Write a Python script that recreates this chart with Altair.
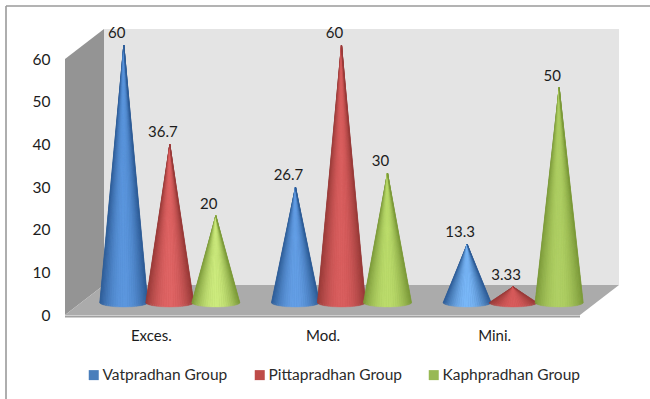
import math
import altair as alt
import pandas as pd

categories = ["Exces.", "Mod.", "Mini."]
groups = ["Vatpradhan Group", "Pittapradhan Group", "Kaphpradhan Group"]
values = {
    "Vatpradhan Group": [60, 26.7, 13.3],
    "Pittapradhan Group": [36.7, 60, 3.33],
    "Kaphpradhan Group": [20, 30, 50],
}
legend_colors = ["#4a7ebb", "#be4b48", "#98b954"]
edge_colors = ["#2e5c96", "#983b39", "#7c9a3a"]
# Highlight colour of each cone, one row per group and one column per category.
center_colors = [
    ["#5c97de", "#649fe6", "#7ab8f8"],
    ["#e06565", "#da5f5f", "#d85c5c"],
    ["#cdeb7e", "#bcdc6c", "#b0d064"],
]

FONT = "Lato"
TEXT = "#1c1c1c"

# Pixel lengths of one scale unit, for the 3D box offsets and cone proportions.
PX_PER_CAT = 515 / 3
PX_PER_VAL = 256 / 60
DEPTH_X = 39 / PX_PER_CAT
DEPTH_Y = 30 / PX_PER_VAL
BASE_RISE = 12.5 / PX_PER_VAL
APEX_RISE = 14 / PX_PER_VAL
CONE_STEP = 46 / PX_PER_CAT
CONE_RX = 24 / PX_PER_CAT
CONE_RY = 4.5 / PX_PER_VAL
STRIPS = 31


def mix(a, b, w):
    ca = [int(a[i:i + 2], 16) for i in (1, 3, 5)]
    cb = [int(b[i:i + 2], 16) for i in (1, 3, 5)]
    return "#%02x%02x%02x" % tuple(round(p + (q - p) * w) for p, q in zip(ca, cb))


def triangle_rows(p1, p2, p3):
    """Turn a triangle into x-ordered rows with a lower and an upper edge."""
    a, b, c = sorted([p1, p2, p3])
    span = c[0] - a[0]
    mid = a[1] + (c[1] - a[1]) * ((b[0] - a[0]) / span if span else 0)
    return [(a[0], a[1], a[1]), (b[0], b[1], mid), (c[0], c[1], c[1])]


outline_rows, strip_rows, label_rows = [], [], []
for c, category in enumerate(categories):
    for g, group in enumerate(groups):
        value = values[group][c]
        xc = c + 0.5 + DEPTH_X / 2 + (g - 1) * CONE_STEP - 0.003
        base = BASE_RISE
        apex = (xc, APEX_RISE + value)
        cone = f"{c}-{g}"
        label_rows.append({"x": xc, "y": apex[1], "label": f"{value:g}"})
        outline_rows += [
            {"x": xc - CONE_RX, "y": base, "y2": base, "group": group, "cone": cone},
            {"x": xc, "y": apex[1], "y2": base - CONE_RY, "group": group, "cone": cone},
            {"x": xc + CONE_RX, "y": base, "y2": base, "group": group, "cone": cone},
        ]
        # Fan of narrow wedges from the apex to the front arc of the base ellipse.
        for s in range(STRIPS):
            t0 = math.pi * s / STRIPS
            t1 = math.pi * (s + 1) / STRIPS
            tm = (t0 + t1) / 2
            p0 = (xc - CONE_RX * math.cos(t0), base - CONE_RY * math.sin(t0))
            p1 = (xc - CONE_RX * math.cos(t1), base - CONE_RY * math.sin(t1))
            shade = mix(edge_colors[g], center_colors[g][c], math.sin(tm) ** 2.2)
            for x, y, y2 in triangle_rows(apex, p0, p1):
                strip_rows.append({"x": x, "y": y, "y2": y2, "shade": shade, "strip": f"{cone}-{s:02d}"})

x_scale = alt.Scale(domain=[0, 3], nice=False, zero=False)
y_scale = alt.Scale(domain=[0, 60], nice=False, zero=False)

label_expr = " : ".join(f"datum.value < {i + 1} ? '{name}'" for i, name in enumerate(categories[:-1]))
label_expr += f" : '{categories[-1]}'"
x_enc = alt.X(
    "x:Q", scale=x_scale, title=None,
    axis=alt.Axis(values=[0.5, 1.5, 2.5], labelExpr=label_expr, domain=False, ticks=False, grid=False,
                  labelFont=FONT, labelFontSize=15, labelColor=TEXT, labelPadding=20, labelBaseline="middle"),
)
y_enc = alt.Y(
    "y:Q", scale=y_scale, title=None,
    axis=alt.Axis(values=[0, 10, 20, 30, 40, 50, 60], domain=False, ticks=False, grid=False,
                  labelFont=FONT, labelFontSize=15.5, labelColor=TEXT, labelPadding=15),
)

back_wall = pd.DataFrame({"x": [DEPTH_X, 3 + DEPTH_X], "y": [DEPTH_Y, DEPTH_Y], "y2": [60 + DEPTH_Y, 60 + DEPTH_Y]})
side_wall = pd.DataFrame({"x": [0, DEPTH_X], "y": [0, DEPTH_Y], "y2": [60, 60 + DEPTH_Y]})
floor = pd.DataFrame({"x": [0, DEPTH_X, 3, 3 + DEPTH_X], "y": [0, 0, 0, DEPTH_Y], "y2": [0, DEPTH_Y, DEPTH_Y, DEPTH_Y]})
floor_edge = pd.DataFrame({"x": [0], "x2": [3], "y": [0]})

frame_top = alt.Chart(pd.DataFrame({"a": [0]})).mark_rule(color="#9a9a9a", strokeWidth=1.6).encode(
    x=alt.value(-59), x2=alt.value(590), y=alt.value(-53)
)
frame_left = alt.Chart(pd.DataFrame({"a": [0]})).mark_rule(color="#9a9a9a", strokeWidth=1.6).encode(
    x=alt.value(-59), y=alt.value(-53), y2=alt.value(345)
)

layers = [
    frame_top,
    frame_left,
    alt.Chart(back_wall).mark_area(color="#e4e4e4").encode(x=x_enc, y=y_enc, y2="y2:Q"),
    alt.Chart(side_wall).mark_area(color="#949494").encode(x=x_enc, y=y_enc, y2="y2:Q"),
    alt.Chart(floor).mark_area(color="#ababab").encode(x=x_enc, y=y_enc, y2="y2:Q"),
    alt.Chart(floor_edge).mark_rule(color="#a0a0a0", strokeWidth=2, yOffset=1.5).encode(
        x=x_enc, x2="x2:Q", y=y_enc
    ),
    alt.Chart(pd.DataFrame(outline_rows)).mark_area(opacity=1).encode(
        x=x_enc, y=y_enc, y2="y2:Q", detail="cone:N",
        color=alt.Color(
            "group:N",
            scale=alt.Scale(domain=groups, range=legend_colors),
            legend=alt.Legend(
                title=None, orient="none", direction="horizontal", legendX=21, legendY=308,
                columns=3, columnPadding=24, symbolType="square", symbolSize=100, symbolOffset=0,
                labelFont=FONT, labelFontSize=15.5, labelColor="#2b2b2b", labelOffset=1,
                symbolStrokeWidth=0.8,
            ),
        ),
    ),
    alt.Chart(pd.DataFrame(strip_rows)).mark_area(strokeWidth=0.4).encode(
        x=x_enc, y=y_enc, y2="y2:Q", detail="strip:N",
        color=alt.Color("shade:N", scale=None, legend=None),
        stroke=alt.Stroke("shade:N", scale=None, legend=None),
    ),
    alt.Chart(pd.DataFrame(label_rows)).mark_text(
        font=FONT, fontSize=15, color=TEXT, dx=-7, dy=-12
    ).encode(x=x_enc, y=y_enc, text="label:N"),
]

chart = (
    alt.layer(*layers)
    .resolve_scale(color="independent", stroke="independent")
    .properties(
        width=515, height=256,
        padding={"left": 65, "top": 59, "right": 70, "bottom": 84},
        autosize=alt.AutoSizeParams(type="none"),
        background="white",
    )
    .configure_view(stroke=None)
)
chart.save("out.html", embed_options={"renderer": "svg", "actions": False})
